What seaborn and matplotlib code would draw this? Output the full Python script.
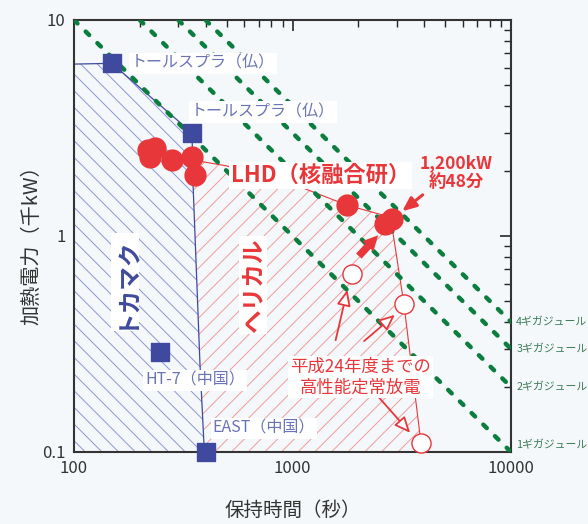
import numpy as np
import pandas as pd
import matplotlib
matplotlib.use("Agg")
import matplotlib.pyplot as plt
import matplotlib.transforms as mtransforms
import seaborn as sns

# --- data (time in seconds, power in 1000 kW) ---
tokamak_names = ["トールスプラ（仏）", "トールスプラ（仏）", "HT-7（中国）", "EAST（中国）"]
tokamak_time = [149, 347, 248, 402]
tokamak_power = [6.3, 3.0, 0.29, 0.1]

lhd_time = [218, 235, 223, 281, 347, 358, 1774, 2650, 2850]
lhd_power = [2.50, 2.55, 2.32, 2.25, 2.32, 1.91, 1.39, 1.14, 1.20]

past_time = [1871, 3235, 3873]
past_power = [0.667, 0.484, 0.110]

energy_gj = [1, 2, 3, 4]

tokamak_region_t = [100, 149, 347, 350, 377, 395, 100]
tokamak_region_p = [6.25, 6.3, 3.0, 1.82, 0.258, 0.1, 0.1]

helical_region_t = [348, 501, 1081, 1774, 2594, 2885, 3235, 3873, 3873, 395, 377, 350]
helical_region_p = [2.25, 2.11, 1.69, 1.39, 1.25, 1.03, 0.484, 0.110, 0.1, 0.1, 0.258, 1.82]

# colours
blue_dark = "#3f4a9e"
blue_text = "#6a73b8"
blue_hatch = "#8e93d8"
red = "#e8373b"
red_hatch = "#f29a9a"
green = "#0b7d3e"
green_text = "#3c7a55"
bg = "#f4f8fb"

sns.set_theme(style="white")
plt.rcParams["font.family"] = ["Noto Sans CJK JP", "DejaVu Sans"]
plt.rcParams["hatch.linewidth"] = 0.7

fig = plt.figure(figsize=(5.88, 5.24), dpi=100, facecolor=bg)
ax = fig.add_axes([74 / 588, 1 - 452 / 524, (511 - 74) / 588, (452 - 20) / 524])
ax.set_facecolor(bg)
ax.set_xscale("log")
ax.set_yscale("log")
ax.set_xlim(100, 10000)
ax.set_ylim(0.1, 10)

# hatched regions
ax.fill(tokamak_region_t, tokamak_region_p, facecolor="none", edgecolor=blue_hatch,
        hatch="\\\\", linewidth=0, zorder=1)
ax.fill(helical_region_t, helical_region_p, facecolor="none", edgecolor=red_hatch,
        hatch="//", linewidth=0, zorder=1)

# region outlines
ax.plot(tokamak_region_t[:6], tokamak_region_p[:6], color=blue_dark, lw=0.9, zorder=2)
ax.plot(helical_region_t[:9], helical_region_p[:9], color=red, lw=0.8, zorder=2)

# constant energy lines
for e in energy_gj:
    t = np.array([100 * e, 10000])
    p = e * 1000 / t
    sns.lineplot(x=t, y=p, ax=ax, color=green, lw=3.2, zorder=3,
                 dashes=False, estimator=None)
    ax.lines[-1].set_dashes([1.1, 2.6])
    ax.lines[-1].set_dash_capstyle("round")

trans = mtransforms.blended_transform_factory(ax.transAxes, ax.transData)
for e in energy_gj:
    y = e / 10 if e > 1 else 0.108
    ax.text(1.012, y, f"{e}ギガジュール", transform=trans, color=green_text,
            fontsize=7.8, va="center", ha="left", clip_on=False)

# markers
sns.scatterplot(x=tokamak_time, y=tokamak_power, ax=ax, marker="s", s=150,
                color=blue_dark, edgecolor=blue_dark, zorder=5, clip_on=False)
sns.scatterplot(x=lhd_time, y=lhd_power, ax=ax, marker="o", s=220,
                color=red, edgecolor=red, zorder=5)
sns.scatterplot(x=past_time, y=past_power, ax=ax, marker="o", s=190,
                color="white", edgecolor=red, linewidth=1.0, zorder=5, clip_on=False)

box = dict(facecolor="white", edgecolor="none", pad=1.5)
ax.text(182, 6.3, tokamak_names[0], color=blue_text,
        fontsize=11.5, va="center", ha="left", bbox=box, zorder=4)
ax.text(343, 3.75, tokamak_names[1], color=blue_text,
        fontsize=11.5, va="center", ha="left", bbox=box, zorder=4)
ax.text(212, 0.215, tokamak_names[2], color=blue_text,
        fontsize=11.5, va="center", ha="left", bbox=box, zorder=4)
ax.text(432, 0.129, tokamak_names[3], color=blue_text,
        fontsize=11.5, va="center", ha="left", bbox=box, zorder=4)

ax.text(522, 1.91, "LHD（核融合研）", color=red, fontsize=16, fontweight="bold",
        va="center", ha="left", bbox=box, zorder=4)
ax.text(5600, 1.96, "1,200kW\n約48分", color=red, fontsize=12.5, fontweight="bold",
        va="center", ha="center", linespacing=1.05, zorder=4)
ax.text(2050, 0.222, "平成24年度までの\n高性能定常放電", color=red, fontsize=12.5,
        va="center", ha="center", linespacing=1.15, bbox=box, zorder=4)

ax.text(171, 0.612, "トカマク", color=blue_dark, fontsize=17, fontweight="bold",
        rotation=90, va="center", ha="center", bbox=box, zorder=4)
ax.text(659, 0.593, "ヘリカル", color=red, fontsize=17, fontweight="bold",
        rotation=90, va="center", ha="center", bbox=box, zorder=4)

# arrows
ax.annotate("", xy=(3104, 1.278), xytext=(4034, 1.58),
            arrowprops=dict(arrowstyle="-|>,head_length=0.7,head_width=0.3",
                            color=red, lw=2.2), zorder=6)
ax.annotate("", xy=(2515, 1.03), xytext=(1972, 0.79),
            arrowprops=dict(arrowstyle="simple,head_length=0.9,head_width=0.9,tail_width=0.45",
                            color=red, lw=0), zorder=6)
open_arrow = dict(arrowstyle="-|>,head_length=0.8,head_width=0.35", fc="white",
                  ec=red, lw=1.3)
ax.annotate("", xy=(1795, 0.58), xytext=(1565, 0.32), arrowprops=open_arrow, zorder=3.5)
ax.annotate("", xy=(3006, 0.44), xytext=(2080, 0.32), arrowprops=open_arrow, zorder=3.5)
ax.annotate("", xy=(3524, 0.12), xytext=(2386, 0.1875), arrowprops=open_arrow, zorder=3.5)

# axes styling
ax.set_xticks([100, 1000, 10000], ["100", "1000", "10000"])
ax.set_yticks([0.1, 1, 10], ["0.1", "1", "10"])
ax.tick_params(which="major", direction="in", length=8, width=1.2, labelsize=12,
               labelcolor="#333333", top=True, right=True, pad=6)
ax.tick_params(which="minor", direction="in", length=5, width=1.0, top=True, right=True)
for s in ax.spines.values():
    s.set_color("#333333")
    s.set_linewidth(1.5)

ax.set_xlabel("保持時間（秒）", fontsize=14, color="#333333")
ax.set_ylabel("加熱電力（千kW）", fontsize=14.5, color="#333333")
ax.xaxis.set_label_coords(0.5, -0.112)
ax.yaxis.set_label_coords(-0.072, 0.49)

fig.savefig("out.png", dpi=100, facecolor=bg)
